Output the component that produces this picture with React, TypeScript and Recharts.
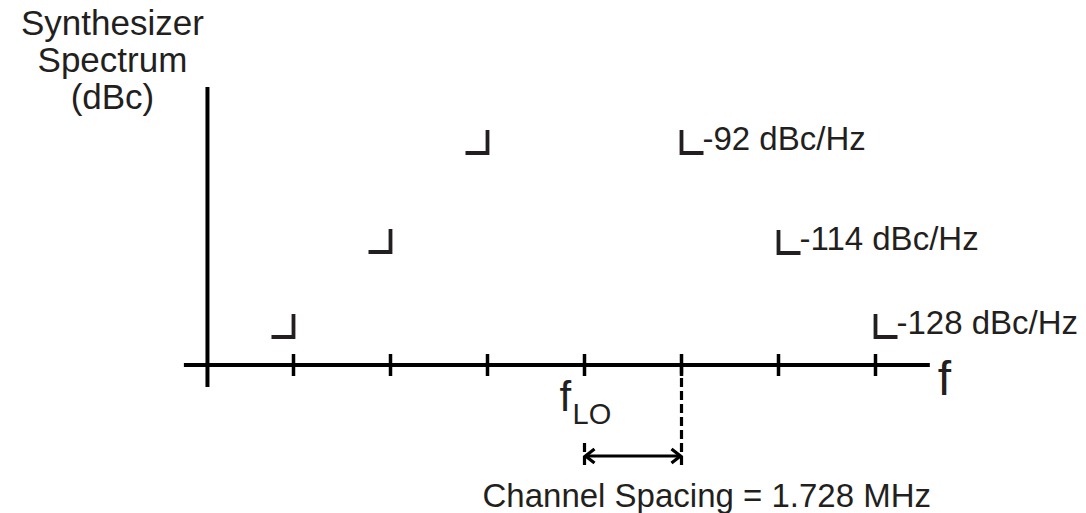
import { ComposedChart, XAxis, YAxis, Scatter, ReferenceLine, ReferenceDot } from "recharts";

// channel offsets from f_LO (in channel spacings)
const tickOffsets = [-3, -2, -1, 0, 1, 2, 3];
// relative spur level (schematic height above the f axis)
const leftMarks = [
  { u: -3, lvl: 0.28 },
  { u: -2, lvl: 1.13 },
  { u: -1, lvl: 2.12 },
];
const rightMarks = [
  { u: 1, lvl: 2.12, label: "-92 dBc/Hz" },
  { u: 2, lvl: 1.12, label: "-114 dBc/Hz" },
  { u: 3, lvl: 0.28, label: "-128 dBc/Hz" },
];
const titleLines = ["Synthesizer", "Spectrum", "(dBc)"];
const spacingLabel = "Channel Spacing = 1.728 MHz";

const FONT = '"Liberation Sans", Arial, Helvetica, sans-serif';
const INK = "#231f20";

const X_AXIS_START = -4.13;
const X_AXIS_END = 3.56;
const Y_AXIS_AT = -3.887;

function corner(side: "left" | "right") {
  return (props: any) => {
    const { cx, cy, payload } = props;
    const x2 = side === "left" ? cx - 22 : cx + 22;
    return (
      <g>
        <path
          d={`M${cx},${cy - 23} L${cx},${cy} L${x2},${cy}`}
          fill="none"
          stroke={INK}
          strokeWidth={3.8}
        />
        {side === "right" && (
          <text x={cx + 21} y={cy - 3} fontSize={33} fontFamily={FONT} fill={INK}>
            {payload.label}
          </text>
        )}
      </g>
    );
  };
}

function DoubleArrow(props: any) {
  const { x1, y1, x2 } = props;
  const a = 10;
  return (
    <g fill="none" stroke="#000" strokeWidth={3.2}>
      <line x1={x1 + 1} y1={y1} x2={x2 - 1} y2={y1} />
      <path d={`M${x1 + a},${y1 - 7} L${x1 + 1},${y1} L${x1 + a},${y1 + 7}`} />
      <path d={`M${x2 - a},${y1 - 7} L${x2 - 1},${y1} L${x2 - a},${y1 + 7}`} />
    </g>
  );
}

export default function App() {
  return (
    <div style={{ position: "absolute", left: 0, top: 0, background: "#fff" }}>
      <ComposedChart
        width={1086}
        height={513}
        margin={{ top: 5, right: 16.5, bottom: 8, left: 2.5 }}
      >
        <XAxis type="number" dataKey="u" domain={[-6, 5]} hide />
        <YAxis type="number" dataKey="lvl" domain={[-1.4, 3.6]} hide />

        {/* axes */}
        <ReferenceLine
          segment={[{ x: X_AXIS_START, y: 0 }, { x: X_AXIS_END, y: 0 }]}
          stroke="#000"
          strokeWidth={4}
          ifOverflow="visible"
        />
        <ReferenceLine
          segment={[{ x: Y_AXIS_AT, y: -0.22 }, { x: Y_AXIS_AT, y: 2.78 }]}
          stroke="#000"
          strokeWidth={4}
          ifOverflow="visible"
        />
        {tickOffsets.map((u) => (
          <ReferenceLine
            key={u}
            segment={[{ x: u, y: -0.11 }, { x: u, y: 0.11 }]}
            stroke="#000"
            strokeWidth={3.5}
            ifOverflow="visible"
          />
        ))}

        {/* channel spacing markers */}
        <ReferenceLine
          segment={[{ x: 1, y: 0 }, { x: 1, y: -1.03 }]}
          stroke="#000"
          strokeWidth={3.2}
          strokeDasharray="9 4"
          ifOverflow="visible"
        />
        <ReferenceLine
          segment={[{ x: 0, y: -0.78 }, { x: 0, y: -1.03 }]}
          stroke="#000"
          strokeWidth={3.2}
          strokeDasharray="9 4"
          ifOverflow="visible"
        />
        <ReferenceLine
          segment={[{ x: 0, y: -0.91 }, { x: 1, y: -0.91 }]}
          shape={DoubleArrow}
          ifOverflow="visible"
        />

        <Scatter data={leftMarks} dataKey="lvl" shape={corner("left")} isAnimationActive={false} />
        <Scatter data={rightMarks} dataKey="lvl" shape={corner("right")} isAnimationActive={false} />

        {/* text */}
        <ReferenceDot
          x={0}
          y={0}
          r={0}
          ifOverflow="visible"
          shape={(p: any) => (
            <g fill={INK} fontFamily={FONT}>
              <text x={p.cx - 25} y={p.cy + 46} fontSize={42}>f</text>
              <text x={p.cx - 12} y={p.cy + 59} fontSize={29}>LO</text>
              <text x={p.cx - 102} y={p.cy + 142} fontSize={33}>{spacingLabel}</text>
            </g>
          )}
        />
        <ReferenceDot
          x={X_AXIS_END}
          y={0}
          r={0}
          ifOverflow="visible"
          shape={(p: any) => (
            <text x={p.cx + 8} y={p.cy + 30} fontSize={48} fontFamily={FONT} fill={INK}>f</text>
          )}
        />
        <ReferenceDot
          x={Y_AXIS_AT}
          y={2.78}
          r={0}
          ifOverflow="visible"
          shape={(p: any) => (
            <g fill={INK} fontFamily={FONT} fontSize={35} textAnchor="middle">
              {titleLines.map((t, i) => (
                <text key={t} x={p.cx - 95} y={p.cy - 52 + i * 37}>{t}</text>
              ))}
            </g>
          )}
        />
      </ComposedChart>
    </div>
  );
}
